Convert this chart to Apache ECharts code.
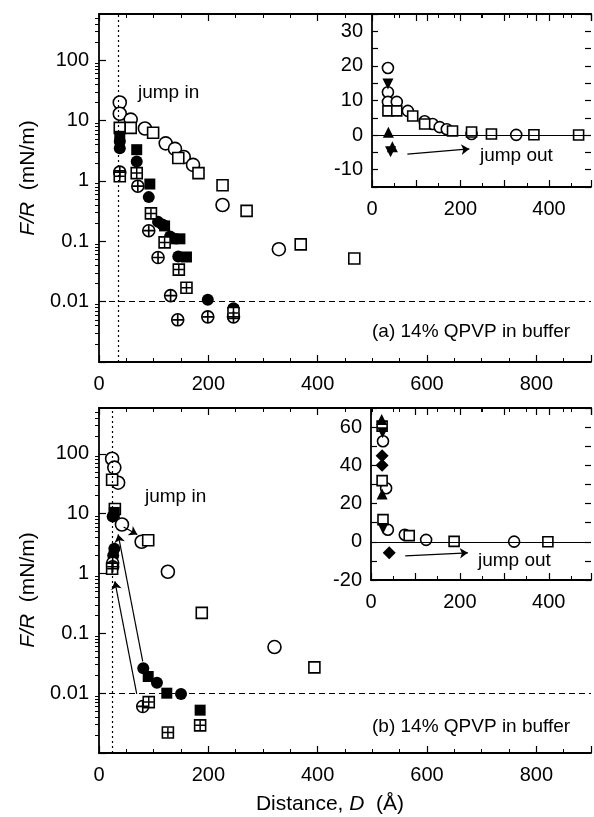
<!DOCTYPE html>
<html>
<head>
<meta charset="utf-8">
<script src="https://cdn.jsdelivr.net/npm/echarts@6/dist/echarts.min.js"></script>
<style>
  html, body { margin: 0; padding: 0; background: #fff; }
  #main { width: 594px; height: 817px; }
</style>
</head>
<body>
<div id="main"></div>
<script>
// data: [D (A), F/R (mN/m)]
var topOpenCircle = [[38,20],[38,13],[58,10.4],[84,7.4],[122,4.2],[139,3.4],[155,2.5],[172,1.85],[226,0.4],[329,0.074]];
var topOpenSquare = [[38,7.6],[58,7.6],[99,6.3],[145,2.4],[182,1.35],[226,0.85],[270,0.32],[369,0.089],[467,0.052]];
var topFilledCircle = [[38,3.5],[38,4.5],[69,2.1],[91,0.54],[108,0.21],[116,0.19],[130,0.12],[145,0.056],[199,0.0108],[246,0.0078]];
var topFilledSquare = [[38,5.5],[69,3.3],[93,0.89],[120,0.18],[135,0.11],[148,0.11],[160,0.055],[246,0.0072]];
var topCrossCircle = [[38,1.4],[71,0.82],[91,0.15],[108,0.054],[131,0.0126],[144,0.005],[199,0.0056],[246,0.0056]];
var topCrossSquare = [[38,1.2],[69,1.35],[95,0.29],[120,0.096],[146,0.034],[160,0.017],[246,0.0065]];

var topInOpenCircle = [[36,19.4],[36,12.4],[36,9.6],[56,9.6],[81,7],[119,4],[137,3.2],[153,2.3],[169,1.7],[225,0.3],[326,0.07]];
var topInOpenSquare = [[36,7],[56,7],[92,5.5],[119,3.2],[182,1.2],[225,0.9],[270,0.3],[366,0.09],[467,0.05]];
var topInTriDown = [[36,14.8],[42,-4.8]];
var topInTriUp = [[37,0.8],[46,-3.4]];

var botOpenCircle = [[24,83],[28,59],[35,33],[42,6.6],[78,3.4],[126,1.07],[321,0.059]];
var botOpenSquare = [[24,37],[29,12],[90,3.6],[188,0.22],[394,0.027]];
var botFilledCircle = [[25,9],[28,2.6],[26,2.0],[81,0.026],[106,0.015],[150,0.0097]];
var botFilledSquare = [[28,10.5],[90,0.019],[124,0.01],[185,0.0052]];
var botCrossCircle = [[25,1.5],[25,1.3],[80,0.006]];
var botCrossSquare = [[24,1.2],[91,0.0071],[126,0.0022],[185,0.0029]];

var botInOpenCircle = [[27,52.6],[34,28],[38,6.3],[76,3.7],[124,1],[322,0.06]];
var botInOpenSquare = [[25,60.5],[25,32],[27,11.6],[86,3.2],[187,0.2],[398,0.03]];
var botInTriUp = [[24,64],[25,25]];
var botInTriDown = [[26,57],[27,7]];
var botInDiamond = [[25,45],[25,40],[41,-5.8]];

// arrows [from, to]
var topInArrow = [[80,-5.5],[220,-4]];
var botInArrow = [[77,-7.4],[218,-5.8]];
var botArrows = [[[80,0.034],[35,4.5]], [[69,0.0097],[29,0.74]], [[45,6],[70,4.5]]];

var logLabels = [0.01, 0.1, 1, 10, 100];
var logMajor = [0.001, 0.01, 0.1, 1, 10, 100];
var logMinor = [];
logMajor.forEach(function(d){
  for (var k = 2; k <= 9; k++) { if (k*d < 585) logMinor.push(k*d); }
});

var FONT = '"Liberation Sans", Arial, sans-serif';
var PLUS = 'path://M-0.9,-6H0.9V-0.9H6V0.9H0.9V6H-0.9V0.9H-6V-0.9H-0.9Z';

// tiny helper in place of jquery
var $ = { extend: function(){ var o = {}; for (var i = 0; i < arguments.length; i++) for (var k in arguments[i]) o[k] = arguments[i][k]; return o; } };

function mk(data, xi, yi, kind, size){
  var open = {color:'#fff', borderColor:'#000', borderWidth:1.6, opacity:1};
  var fill = {color:'#000', opacity:1};
  var base = {type:'scatter', xAxisIndex:xi, yAxisIndex:yi, data:data, symbolSize:size, silent:true, z:3};
  var out = [];
  if (kind == 'oc') out.push($.extend({symbol:'circle', itemStyle:open}, base));
  if (kind == 'os') out.push($.extend({symbol:'rect', itemStyle:open}, base));
  if (kind == 'fc') out.push($.extend({symbol:'circle', itemStyle:fill}, base));
  if (kind == 'fs') out.push($.extend({symbol:'rect', itemStyle:fill}, base));
  if (kind == 'tu') out.push($.extend({symbol:'triangle', itemStyle:fill}, base));
  if (kind == 'td') out.push($.extend({symbol:'triangle', symbolRotate:180, itemStyle:fill}, base));
  if (kind == 'fd') out.push($.extend({symbol:'diamond', itemStyle:fill}, base));
  if (kind == 'xc' || kind == 'xs') {
    out.push($.extend({symbol: kind == 'xc' ? 'circle' : 'rect', itemStyle:open}, base));
    out.push($.extend({}, base, {symbol:PLUS, symbolSize:size-1, itemStyle:fill, z:4}));
  }
  return out;
}

function arrowSeries(xi, yi, pairs){
  return {
    type:'scatter', xAxisIndex:xi, yAxisIndex:yi, data:[], silent:true, z:2,
    markLine:{
      silent:true, animation:false, symbol:['none','arrow'], symbolSize:8,
      label:{show:false}, lineStyle:{color:'#000', width:1.2, type:'solid', opacity:1},
      emphasis:{disabled:true},
      data: pairs.map(function(p){ return [{coord:p[0]}, {coord:p[1]}]; })
    }
  };
}
function refLines(xi, yi, xLine, yLine, yType){
  var d = [];
  if (xLine != null) d.push({xAxis:xLine, lineStyle:{type:[2,3], width:1.2, color:'#000'}});
  if (yLine != null) d.push({yAxis:yLine, lineStyle:{type:yType, width:1.2, color:'#000'}});
  return {
    type:'scatter', xAxisIndex:xi, yAxisIndex:yi, data:[], silent:true, z:1,
    markLine:{silent:true, animation:false, symbol:['none','none'], label:{show:false}, data:d}
  };
}

function xAx(grid, max, pos, labels){
  return {
    type:'value', gridIndex:grid, min:0, max:max, interval: max > 600 ? 200 : 100, position:pos,
    axisLine:{show:true, onZero:false, lineStyle:{color:'#000', width:1.8}},
    axisTick:{show:true, inside:true, length:7, lineStyle:{color:'#000', width:1.2}},
    minorTick:{show:true, splitNumber: max > 600 ? 4 : 2, length:4, lineStyle:{color:'#000', width:1}},
    splitLine:{show:false},
    axisLabel:{show:labels, color:'#000', fontFamily:FONT, fontSize:20, margin:12,
      formatter:function(v){ return v % 200 == 0 ? String(v) : ''; }}
  };
}
function logAx(grid){
  return {
    type:'log', gridIndex:grid, min:0.001, max:585, logBase:10,
    axisLine:{show:true, onZero:false, lineStyle:{color:'#000', width:1.8}},
    axisTick:{show:true, inside:true, length:7, customValues:logMajor, lineStyle:{color:'#000', width:1.2}},
    splitLine:{show:false},
    axisLabel:{show:true, color:'#000', fontFamily:FONT, fontSize:20, margin:10, customValues:logLabels,
      formatter:function(v){ var e = Math.round(Math.log10(v)); return ['0.01','0.1','1','10','100'][e+2]; }}
  };
}
function logMinorAx(grid){
  return {
    type:'log', gridIndex:grid, min:0.001, max:585, logBase:10,
    axisLine:{show:false},
    axisTick:{show:true, inside:true, length:4, customValues:logMinor, lineStyle:{color:'#000', width:1}},
    axisLabel:{show:false}, splitLine:{show:false}
  };
}
function linAx(grid, min, max, interval, step, pos, labels){
  return {
    type:'value', gridIndex:grid, min:min, max:max, interval:interval, position:pos,
    axisLine:{show:pos == 'left', onZero:false, lineStyle:{color:'#000', width:1.8}},
    axisTick:{show:true, inside:true, length:6, lineStyle:{color:'#000', width:1.2}},
    splitLine:{show:false},
    axisLabel:{show:labels, color:'#000', fontFamily:FONT, fontSize:20, margin:9,
      formatter:function(v){ return v % step == 0 ? String(v) : ''; }}
  };
}

var series = [];
function add(arr){ series = series.concat(arr); }
// top main (axes 0/0)
add([refLines(0, 0, 35, 0.01, [6,4])]);
add(mk(topOpenCircle, 0, 0, 'oc', 13));
add(mk(topOpenSquare, 0, 0, 'os', 11));
add(mk(topFilledCircle, 0, 0, 'fc', 12));
add(mk(topFilledSquare, 0, 0, 'fs', 11));
add(mk(topCrossCircle, 0, 0, 'xc', 12));
add(mk(topCrossSquare, 0, 0, 'xs', 11));
// top inset (axes 2/2)
add([refLines(2, 2, null, 0, 'solid')]);
add(mk(topInOpenCircle, 2, 2, 'oc', 11));
add(mk(topInOpenSquare, 2, 2, 'os', 10));
add(mk(topInTriDown, 2, 2, 'td', 11));
add(mk(topInTriUp, 2, 2, 'tu', 11));
add([arrowSeries(2, 2, [topInArrow])]);
// bottom main (axes 4/4)
add([refLines(4, 4, 24, 0.01, [6,4])]);
add([arrowSeries(4, 4, botArrows)]);
add(mk(botOpenCircle, 4, 4, 'oc', 13));
add(mk(botOpenSquare, 4, 4, 'os', 11));
add(mk(botFilledCircle, 4, 4, 'fc', 12));
add(mk(botFilledSquare, 4, 4, 'fs', 11));
add(mk(botCrossCircle, 4, 4, 'xc', 12));
add(mk(botCrossSquare, 4, 4, 'xs', 11));
// bottom inset (axes 6/6)
add([refLines(6, 6, null, 0, 'solid')]);
add(mk(botInOpenCircle, 6, 6, 'oc', 11));
add(mk(botInOpenSquare, 6, 6, 'os', 10));
add(mk(botInTriUp, 6, 6, 'tu', 11));
add(mk(botInTriDown, 6, 6, 'td', 11));
add(mk(botInDiamond, 6, 6, 'fd', 13));
add([arrowSeries(6, 6, [botInArrow])]);

function txt(x, y, s, size){
  return {type:'text', x:x, y:y, silent:true, z:10,
    style:{text:s, fill:'#000', font:(size||19) + 'px ' + FONT, verticalAlign:'middle'}};
}
function yTitle(x, y){
  return {type:'text', x:x, y:y, rotation:Math.PI/2, silent:true, z:10,
    style:{text:'{i|F/R}  (mN/m)', fill:'#000', font:'21px ' + FONT, align:'center', verticalAlign:'middle',
      rich:{i:{fontStyle:'italic', fontSize:21, fontFamily:FONT}}}};
}

var chart = echarts.init(document.getElementById('main'), null, {renderer:'canvas'});
chart.setOption({
  animation:false,
  backgroundColor:'#fff',
  grid:[
    {left:99, top:14, width:493, height:348},
    {left:372, top:14, width:220, height:173},
    {left:99, top:408, width:493, height:345},
    {left:371, top:408, width:221, height:172}
  ],
  xAxis:[
    xAx(0, 900, 'bottom', true), xAx(0, 900, 'top', false),
    xAx(1, 495, 'bottom', true), xAx(1, 495, 'top', false),
    xAx(2, 900, 'bottom', true), xAx(2, 900, 'top', false),
    xAx(3, 495, 'bottom', true), xAx(3, 495, 'top', false)
  ],
  yAxis:[
    logAx(0), logMinorAx(0),
    linAx(1, -15, 35, 5, 10, 'left', true), linAx(1, -15, 35, 5, 10, 'right', false),
    logAx(2), logMinorAx(2),
    linAx(3, -20, 70, 10, 20, 'left', true), linAx(3, -20, 70, 10, 20, 'right', false)
  ],
  series:series,
  graphic:[
    yTitle(28, 178), yTitle(28, 590),
    txt(138, 93, 'jump in'),
    txt(480, 156, 'jump out'),
    txt(372, 332, '(a) 14% QPVP in buffer'),
    txt(145, 497, 'jump in'),
    txt(478, 561, 'jump out'),
    txt(372, 727, '(b) 14% QPVP in buffer'),
    {type:'text', x:330, y:804, silent:true, z:10,
      style:{text:'Distance, {i|D}  (Å)', fill:'#000', font:'21px ' + FONT, align:'center', verticalAlign:'middle',
        rich:{i:{fontStyle:'italic', fontSize:21, fontFamily:FONT}}}}
  ]
});
</script>
</body>
</html>
